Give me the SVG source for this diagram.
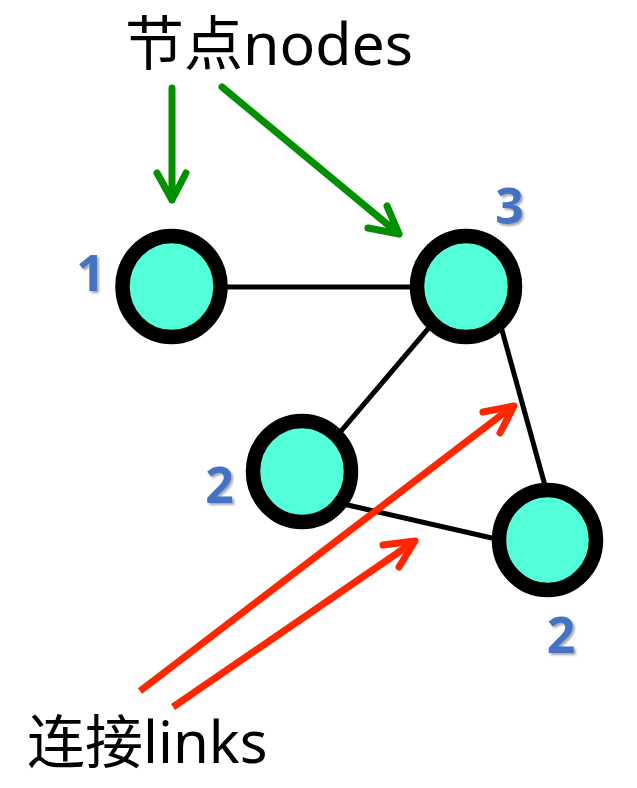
<svg xmlns="http://www.w3.org/2000/svg" width="637" height="788" viewBox="0 0 637 788">
  <defs>
    <filter id="sh" x="-30%" y="-30%" width="160%" height="160%">
      <feDropShadow dx="2" dy="2" stdDeviation="1.2" flood-color="#000" flood-opacity="0.35"/>
    </filter>
  </defs>
  <style>
    .edge { stroke: #000; stroke-width: 5; fill: none; }
    .node { fill: #52FFD8; stroke: #000; stroke-width: 14.5; }
    .num { font-family: "Open Sans", "Liberation Sans", sans-serif; font-weight: 700; font-size: 50px; fill: #4472C4; text-anchor: middle; filter: url(#sh); }
    .title { font-family: "Noto Sans", "Noto Sans CJK SC", sans-serif; fill: #000; }
    .green { stroke: #009000; stroke-width: 7; fill: none; stroke-linecap: round; stroke-linejoin: round; }
    .red { stroke: #FF2600; stroke-width: 7; fill: none; stroke-linecap: butt; stroke-linejoin: round; }
    .redhead { stroke: #FF2600; stroke-width: 7; fill: none; stroke-linecap: round; stroke-linejoin: round; }
  </style>
  <rect width="637" height="788" fill="#fff"/>

  <g id="connectors">
    <line class="edge" x1="171.5" y1="287" x2="466" y2="287"/>
    <line class="edge" x1="433.5" y1="322.4" x2="335.5" y2="437.6"/>
    <line class="edge" x1="499.3" y1="320.4" x2="546.7" y2="491.6"/>
    <line class="edge" x1="342.3" y1="503.8" x2="501.7" y2="540.2"/>
  </g>

  <g id="node-1">
    <ellipse class="node" cx="171.5" cy="286.5" rx="49" ry="50.5"/>
    <text class="num" x="90.5" y="291">1</text>
  </g>
  <g id="node-3">
    <ellipse class="node" cx="466" cy="286.5" rx="49" ry="50.5"/>
    <text class="num" x="509.5" y="224">3</text>
  </g>
  <g id="node-2a">
    <ellipse class="node" cx="302" cy="471.5" rx="49" ry="50.5"/>
    <text class="num" x="219.5" y="503">2</text>
  </g>
  <g id="node-2b">
    <ellipse class="node" cx="547.5" cy="540" rx="48.5" ry="50"/>
    <text class="num" x="561" y="653">2</text>
  </g>

  <g id="label-nodes">
    <text class="title" x="125" y="65" font-size="59">节点nodes</text>
    <path class="green" d="M172,88 L172,200 M157,173 L172,200 L186,173"/>
    <path class="green" d="M222,87 L399,234 M368,228 L399,234 L387,206"/>
  </g>

  <g id="label-links">
    <text class="title" x="27" y="763" font-size="58">连接links</text>
    <path class="red" d="M140,691 L513,406"/>
    <path class="redhead" d="M483,412 L514,406 L500,433"/>
    <path class="red" d="M173,707 L415,541"/>
    <path class="redhead" d="M383,545 L415,541 L399,567"/>
  </g>
</svg>
